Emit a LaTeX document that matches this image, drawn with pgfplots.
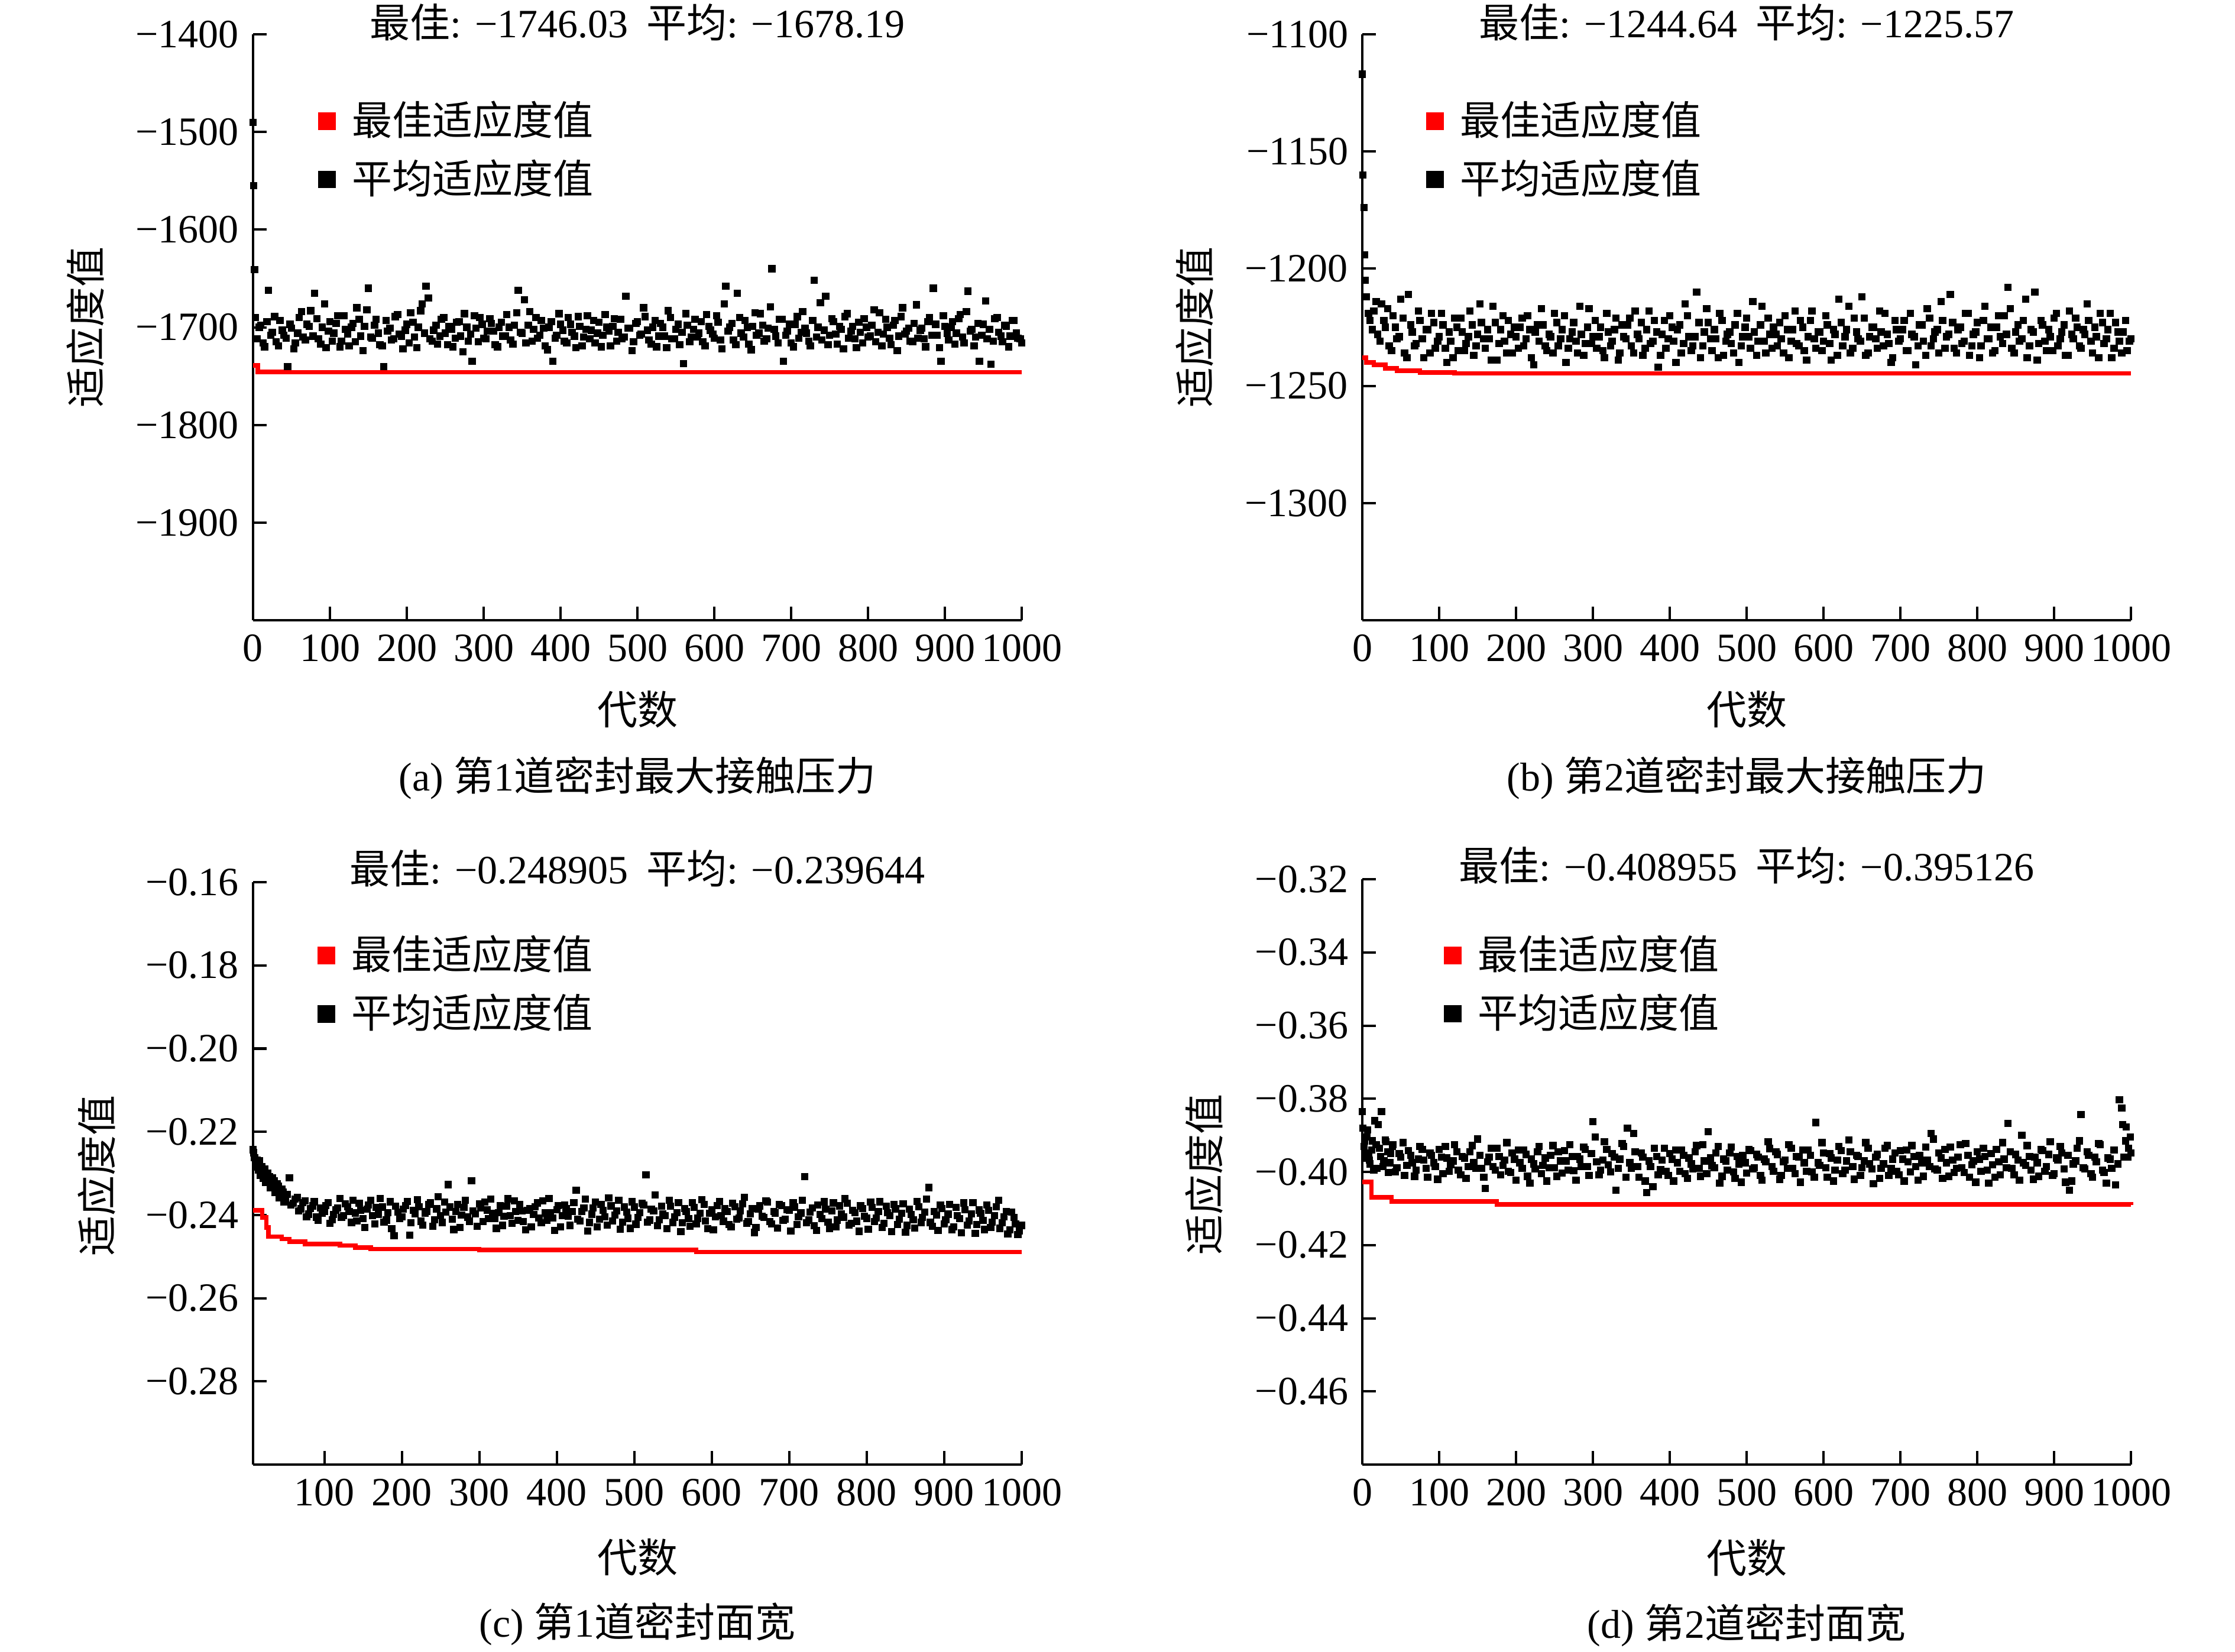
\documentclass[border=0pt]{standalone}
\usepackage{fontspec}
\setmainfont{Liberation Serif}
\newfontfamily\cjk{Noto Sans CJK SC}
\usepackage{pgfplots}
\pgfplotsset{compat=1.18}
\newcommand{\zh}[1]{{\cjk #1}}
\pgfplotsset{
 panel/.style={
  scale only axis, width=191.18pt,
  axis x line*=bottom, axis y line*=left,
  x axis line style={-}, y axis line style={-},
  axis line style={line width=0.6pt},
  tick align=inside, major tick length=3.4pt,
  every tick/.style={black, line width=0.6pt},
  clip=false, xmax=1000,
  font=\fontsize{10}{12}\selectfont,
  tick label style={font=\fontsize{10}{12}\selectfont},
  xlabel={\zh{代数}}, ylabel={\zh{适应度值}},
  every axis title shift=0pt,
  title style={anchor=center, font=\fontsize{10}{12}\selectfont},
  legend cell align=left,
  legend image code/.code={\fill[##1] (0pt,-2pt) rectangle (4pt,2pt);},
  legend style={draw=none, fill=none, inner sep=0pt, anchor=west, row sep=2.5pt, column sep=3pt,
    nodes={inner sep=1pt, font=\cjk\fontsize{10}{12}\selectfont}},
 },
 avg/.style={only marks, mark=square*, mark size=0.7pt, black, forget plot},
 best/.style={red, line width=1.1pt, const plot, forget plot},
}
\begin{document}
\begin{tikzpicture}
\path[use as bounding box] (0,0) rectangle (555.88pt,410.74pt);
% ---------------- (a)
\begin{axis}[panel, at={(62.94pt,256.47pt)}, anchor=south west, height=145.74pt,
 xmin=0, ymin=-2000, ymax=-1400,
 xtick={0,100,...,1000}, xticklabels={0,100,200,300,400,500,600,700,800,900,1000},
 ytick={-1900,-1800,-1700,-1600,-1500,-1400}, yticklabels={−1900,−1800,−1700,−1600,−1500,−1400},
 title={\zh{最佳}: −1746.03\hspace{0.45em}\zh{平均}: −1678.19},
 title style={at={(axis description cs:0.5,1.020)}},
 xlabel style={at={(axis description cs:0.5,-0.152)}, anchor=center},
 ylabel style={at={(axis description cs:-0.218,0.5)}, anchor=center},
 legend style={at={(axis description cs:0.0838,0.802)}},
]
\addplot[avg] coordinates {(0,-1490)(1,-1555)(2,-1641)(3,-1690)
(5,-1712)(10,-1698)(15,-1720)(20,-1662)(25,-1705)(30,-1715)(35,-1693)(40,-1708)(45,-1740)(50,-1701)
(55,-1716)(60,-1690)(65,-1710)(70,-1697)(75,-1683)(80,-1665)(85,-1712)(90,-1700)(95,-1721)(100,-1694)
(105,-1706)(110,-1688)(115,-1714)(120,-1702)(125,-1719)(130,-1696)(135,-1680)(140,-1709)(145,-1699)(150,-1660)
(155,-1711)(160,-1692)(165,-1718)(170,-1740)(175,-1704)(180,-1713)(185,-1689)(190,-1707)(195,-1722)(200,-1697)
(205,-1685)(210,-1710)(215,-1700)(220,-1676)(225,-1658)(230,-1712)(235,-1703)(240,-1717)(245,-1692)(250,-1706)
(255,-1699)(260,-1720)(265,-1695)(270,-1709)(275,-1686)(280,-1714)(285,-1735)(290,-1701)(295,-1690)(300,-1711)
(305,-1704)(310,-1696)(315,-1718)(320,-1700)(325,-1709)(330,-1687)(335,-1713)(340,-1698)(345,-1662)(350,-1706)
(355,-1716)(360,-1684)(365,-1702)(370,-1711)(375,-1693)(380,-1719)(385,-1700)(390,-1735)(395,-1708)(400,-1697)
(405,-1714)(410,-1690)(415,-1705)(420,-1721)(425,-1699)(430,-1710)(435,-1688)(440,-1703)(445,-1716)(450,-1695)
(455,-1708)(460,-1700)(465,-1719)(470,-1691)(475,-1705)(480,-1712)(485,-1668)(490,-1701)(495,-1715)(500,-1694)
(505,-1707)(510,-1689)(515,-1713)(520,-1700)(525,-1720)(530,-1696)(535,-1709)(540,-1683)(545,-1712)(550,-1702)
(555,-1718)(560,-1737)(565,-1698)(570,-1710)(575,-1692)(580,-1706)(585,-1715)(590,-1687)(595,-1703)(600,-1711)
(605,-1695)(610,-1722)(615,-1658)(620,-1700)(625,-1713)(630,-1665)(635,-1706)(640,-1693)(645,-1717)(650,-1699)
(655,-1708)(660,-1686)(665,-1714)(670,-1701)(675,-1640)(680,-1709)(685,-1692)(690,-1735)(695,-1704)(700,-1716)
(705,-1697)(710,-1711)(715,-1684)(720,-1706)(725,-1719)(730,-1652)(735,-1700)(740,-1713)(745,-1668)(750,-1708)
(755,-1694)(760,-1717)(765,-1702)(770,-1689)(775,-1711)(780,-1699)(785,-1721)(790,-1705)(795,-1691)(800,-1710)
(805,-1698)(810,-1715)(815,-1685)(820,-1707)(825,-1700)(830,-1718)(835,-1693)(840,-1709)(845,-1680)(850,-1704)
(855,-1714)(860,-1696)(865,-1711)(870,-1701)(875,-1720)(880,-1690)(885,-1660)(890,-1708)(895,-1735)(900,-1699)
(905,-1713)(910,-1694)(915,-1706)(920,-1687)(925,-1716)(930,-1663)(935,-1702)(940,-1710)(945,-1735)(950,-1697)
(955,-1712)(960,-1738)(965,-1691)(970,-1705)(975,-1715)(980,-1699)(985,-1709)(990,-1693)(995,-1711)(1000,-1716)};
\addplot[avg] coordinates {(8,-1700)(13,-1716)(18,-1694)(23,-1708)(28,-1689)(33,-1719)(38,-1703)(43,-1711)(48,-1697)
(53,-1722)(58,-1706)(63,-1684)(68,-1713)(73,-1699)(78,-1709)(83,-1691)(88,-1717)(93,-1676)(98,-1704)
(103,-1714)(108,-1696)(113,-1720)(118,-1688)(123,-1707)(128,-1700)(133,-1715)(138,-1692)(143,-1724)(148,-1682)
(153,-1710)(158,-1698)(163,-1706)(168,-1719)(173,-1693)(178,-1701)(183,-1712)(188,-1687)(193,-1709)(198,-1703)
(203,-1716)(208,-1695)(213,-1721)(218,-1683)(223,-1706)(228,-1670)(233,-1714)(238,-1698)(243,-1709)(248,-1690)
(253,-1718)(258,-1702)(263,-1711)(268,-1694)(273,-1725)(278,-1700)(283,-1707)(288,-1688)(293,-1715)(298,-1697)
(303,-1712)(308,-1691)(313,-1704)(318,-1720)(323,-1695)(328,-1709)(333,-1700)(338,-1717)(343,-1685)(348,-1705)
(353,-1672)(358,-1698)(363,-1714)(368,-1690)(373,-1708)(378,-1701)(383,-1723)(388,-1694)(393,-1711)(398,-1686)
(403,-1703)(408,-1716)(413,-1697)(418,-1709)(423,-1689)(428,-1719)(433,-1702)(438,-1712)(443,-1693)(448,-1706)
(453,-1720)(458,-1687)(463,-1704)(468,-1699)(473,-1714)(478,-1692)(483,-1710)(488,-1701)(493,-1724)(498,-1696)
(503,-1708)(508,-1680)(513,-1703)(518,-1717)(523,-1693)(528,-1709)(533,-1700)(538,-1721)(543,-1690)(548,-1712)
(553,-1697)(558,-1705)(563,-1686)(568,-1715)(573,-1702)(578,-1710)(583,-1694)(588,-1719)(593,-1699)(598,-1707)
(603,-1688)(608,-1713)(613,-1676)(618,-1704)(623,-1696)(628,-1718)(633,-1690)(638,-1710)(643,-1700)(648,-1723)
(653,-1685)(658,-1706)(663,-1698)(668,-1712)(673,-1679)(678,-1702)(683,-1716)(688,-1692)(693,-1708)(698,-1697)
(703,-1720)(708,-1689)(713,-1705)(718,-1701)(723,-1714)(728,-1693)(733,-1710)(738,-1675)(743,-1703)(748,-1718)
(753,-1691)(758,-1707)(763,-1699)(768,-1722)(773,-1686)(778,-1704)(783,-1712)(788,-1695)(793,-1716)(798,-1700)
(803,-1709)(808,-1682)(813,-1705)(818,-1719)(823,-1692)(828,-1711)(833,-1698)(838,-1724)(843,-1689)(848,-1707)
(853,-1701)(858,-1715)(863,-1677)(868,-1703)(873,-1712)(878,-1694)(883,-1708)(888,-1697)(893,-1721)(898,-1688)
(903,-1706)(908,-1700)(913,-1717)(918,-1691)(923,-1710)(928,-1684)(933,-1704)(938,-1719)(943,-1696)(948,-1708)
(953,-1673)(958,-1702)(963,-1714)(968,-1690)(973,-1709)(978,-1698)(983,-1720)(988,-1693)(993,-1706)(998,-1712)};
\addplot[best] coordinates {(0,-1739)(6,-1745.6)(40,-1746.03)(1000,-1746.03)};
\addlegendimage{red}\addlegendentry{最佳适应度值}
\addlegendimage{black}\addlegendentry{平均适应度值}
\node[font=\fontsize{10}{12}\selectfont] at (axis description cs:0.5,-0.269) {(a) \zh{第}1\zh{道密封最大接触压力}};
\end{axis}
% ---------------- (b)
\begin{axis}[panel, at={(338.82pt,256.47pt)}, anchor=south west, height=145.74pt,
 xmin=0, ymin=-1350, ymax=-1100,
 xtick={0,100,...,1000}, xticklabels={0,100,200,300,400,500,600,700,800,900,1000},
 ytick={-1300,-1250,-1200,-1150,-1100}, yticklabels={−1300,−1250,−1200,−1150,−1100},
 title={\zh{最佳}: −1244.64\hspace{0.45em}\zh{平均}: −1225.57},
 title style={at={(axis description cs:0.5,1.020)}},
 xlabel style={at={(axis description cs:0.5,-0.152)}, anchor=center},
 ylabel style={at={(axis description cs:-0.218,0.5)}, anchor=center},
 legend style={at={(axis description cs:0.082,0.802)}},
]
\addplot[avg] coordinates {(0,-1117)(1,-1160)(2,-1174)(3,-1194)(4,-1205)
(5,-1212)(10,-1222)(15,-1218)(20,-1228)(25,-1215)(30,-1225)(35,-1233)(40,-1220)(45,-1230)(50,-1213)
(55,-1236)(60,-1211)(65,-1227)(70,-1232)(75,-1222)(80,-1238)(85,-1226)(90,-1219)(95,-1234)(100,-1229)
(105,-1224)(110,-1240)(115,-1231)(120,-1221)(125,-1235)(130,-1227)(135,-1232)(140,-1218)(145,-1237)(150,-1228)
(155,-1223)(160,-1234)(165,-1230)(170,-1216)(175,-1239)(180,-1226)(185,-1231)(190,-1222)(195,-1236)(200,-1229)
(205,-1225)(210,-1233)(215,-1220)(220,-1238)(225,-1227)(230,-1231)(235,-1224)(240,-1235)(245,-1229)(250,-1219)
(255,-1233)(260,-1226)(265,-1240)(270,-1230)(275,-1223)(280,-1236)(285,-1228)(290,-1232)(295,-1217)(300,-1229)
(305,-1234)(310,-1225)(315,-1238)(320,-1227)(325,-1231)(330,-1221)(335,-1236)(340,-1229)(345,-1224)(350,-1233)
(355,-1218)(360,-1230)(365,-1237)(370,-1226)(375,-1232)(380,-1222)(385,-1242)(390,-1228)(395,-1234)(400,-1220)
(405,-1231)(410,-1226)(415,-1236)(420,-1215)(425,-1229)(430,-1233)(435,-1210)(440,-1238)(445,-1227)(450,-1223)
(455,-1235)(460,-1230)(465,-1219)(470,-1237)(475,-1228)(480,-1232)(485,-1224)(490,-1240)(495,-1229)(500,-1221)
(505,-1234)(510,-1227)(515,-1231)(520,-1216)(525,-1236)(530,-1228)(535,-1225)(540,-1233)(545,-1230)(550,-1220)
(555,-1238)(560,-1226)(565,-1232)(570,-1222)(575,-1235)(580,-1229)(585,-1218)(590,-1234)(595,-1227)(600,-1231)
(605,-1224)(610,-1239)(615,-1228)(620,-1213)(625,-1233)(630,-1226)(635,-1236)(640,-1221)(645,-1230)(650,-1212)
(655,-1237)(660,-1229)(665,-1225)(670,-1234)(675,-1227)(680,-1219)(685,-1232)(690,-1238)(695,-1226)(700,-1230)
(705,-1222)(710,-1235)(715,-1228)(720,-1241)(725,-1224)(730,-1231)(735,-1217)(740,-1233)(745,-1227)(750,-1236)
(755,-1222)(760,-1229)(765,-1211)(770,-1234)(775,-1226)(780,-1232)(785,-1219)(790,-1237)(795,-1228)(800,-1223)
(805,-1233)(810,-1216)(815,-1230)(820,-1236)(825,-1225)(830,-1229)(835,-1220)(840,-1208)(845,-1234)(850,-1227)
(855,-1231)(860,-1222)(865,-1238)(870,-1226)(875,-1210)(880,-1232)(885,-1224)(890,-1235)(895,-1229)(900,-1221)
(905,-1233)(910,-1227)(915,-1237)(920,-1218)(925,-1230)(930,-1225)(935,-1234)(940,-1228)(945,-1222)(950,-1236)
(955,-1229)(960,-1219)(965,-1232)(970,-1226)(975,-1238)(980,-1223)(985,-1231)(990,-1227)(995,-1235)(1000,-1230)};
\addplot[avg] coordinates {(8,-1219)(13,-1226)(18,-1214)(23,-1231)(28,-1222)(33,-1217)(38,-1235)(43,-1225)(48,-1229)
(53,-1221)(58,-1238)(63,-1224)(68,-1233)(73,-1218)(78,-1230)(83,-1226)(88,-1236)(93,-1223)(98,-1231)
(103,-1219)(108,-1234)(113,-1227)(118,-1238)(123,-1225)(128,-1221)(133,-1235)(138,-1229)(143,-1224)(148,-1233)
(153,-1215)(158,-1230)(163,-1226)(168,-1239)(173,-1223)(178,-1232)(183,-1220)(188,-1236)(193,-1228)(198,-1225)
(203,-1234)(208,-1221)(213,-1230)(218,-1226)(223,-1241)(228,-1224)(233,-1217)(238,-1233)(243,-1228)(248,-1236)
(253,-1223)(258,-1230)(263,-1220)(268,-1234)(273,-1227)(278,-1231)(283,-1216)(288,-1237)(293,-1225)(298,-1232)
(303,-1222)(308,-1229)(313,-1235)(318,-1219)(323,-1233)(328,-1226)(333,-1239)(338,-1224)(343,-1230)(348,-1221)
(353,-1236)(358,-1228)(363,-1223)(368,-1234)(373,-1218)(378,-1231)(383,-1227)(388,-1237)(393,-1222)(398,-1230)
(403,-1225)(408,-1240)(413,-1224)(418,-1232)(423,-1220)(428,-1235)(433,-1229)(438,-1223)(443,-1233)(448,-1217)
(453,-1230)(458,-1226)(463,-1238)(468,-1222)(473,-1231)(478,-1227)(483,-1236)(488,-1219)(493,-1233)(498,-1225)
(503,-1229)(508,-1214)(513,-1237)(518,-1224)(523,-1231)(528,-1221)(533,-1234)(538,-1228)(543,-1223)(548,-1236)
(553,-1226)(558,-1231)(563,-1218)(568,-1233)(573,-1225)(578,-1239)(583,-1222)(588,-1230)(593,-1227)(598,-1235)
(603,-1220)(608,-1232)(613,-1226)(618,-1237)(623,-1223)(628,-1229)(633,-1216)(638,-1234)(643,-1227)(648,-1231)
(653,-1221)(658,-1236)(663,-1225)(668,-1230)(673,-1218)(678,-1233)(683,-1228)(688,-1240)(693,-1222)(698,-1231)
(703,-1226)(708,-1235)(713,-1219)(718,-1229)(723,-1233)(728,-1224)(733,-1237)(738,-1221)(743,-1230)(748,-1226)
(753,-1214)(758,-1234)(763,-1228)(768,-1223)(773,-1236)(778,-1225)(783,-1231)(788,-1219)(793,-1233)(798,-1227)
(803,-1238)(808,-1222)(813,-1230)(818,-1225)(823,-1235)(828,-1220)(833,-1232)(838,-1228)(843,-1217)(848,-1236)
(853,-1224)(858,-1230)(863,-1213)(868,-1233)(873,-1227)(878,-1239)(883,-1222)(888,-1231)(893,-1226)(898,-1235)
(903,-1219)(908,-1230)(913,-1224)(918,-1237)(923,-1228)(928,-1221)(933,-1233)(938,-1226)(943,-1215)(948,-1231)
(953,-1225)(958,-1238)(963,-1223)(968,-1230)(973,-1219)(978,-1234)(983,-1227)(988,-1236)(993,-1222)(998,-1231)};
\addplot[best] coordinates {(0,-1238)(5,-1240)(15,-1241)(30,-1242.5)(45,-1243.5)(75,-1244.3)(120,-1244.64)(1000,-1244.64)};
\addlegendimage{red}\addlegendentry{最佳适应度值}
\addlegendimage{black}\addlegendentry{平均适应度值}
\node[font=\fontsize{10}{12}\selectfont] at (axis description cs:0.5,-0.269) {(b) \zh{第}2\zh{道密封最大接触压力}};
\end{axis}
% ---------------- (c)
\begin{axis}[panel, at={(62.94pt,46.47pt)}, anchor=south west, height=144.85pt,
 xmin=8, ymin=-0.30, ymax=-0.16,
 xtick={100,200,...,1000}, xticklabels={100,200,300,400,500,600,700,800,900,1000},
 ytick={-0.28,-0.26,-0.24,-0.22,-0.20,-0.18,-0.16}, yticklabels={−0.28,−0.26,−0.24,−0.22,−0.20,−0.18,−0.16},
 title={\zh{最佳}: −0.248905\hspace{0.45em}\zh{平均}: −0.239644},
 title style={at={(axis description cs:0.5,1.024)}},
 xlabel style={at={(axis description cs:0.5,-0.159)}, anchor=center},
 ylabel style={at={(axis description cs:-0.203,0.496)}, anchor=center},
 legend style={at={(axis description cs:0.083,0.824)}},
]
\addplot[avg] coordinates {(8,-0.2243)(10,-0.2262)(12,-0.2278)(14,-0.2285)(16,-0.2270)(18,-0.2296)(20,-0.2301)
(23,-0.2290)(26,-0.2315)(29,-0.2308)(32,-0.2327)(35,-0.2318)(38,-0.2340)(41,-0.2331)(44,-0.2352)(47,-0.2345)
(50,-0.2361)(55,-0.2311)(60,-0.2372)(65,-0.2358)(70,-0.2385)(75,-0.2366)(80,-0.2398)(85,-0.2378)(90,-0.2405)(95,-0.2383)
(100,-0.2392)(105,-0.2370)(110,-0.2411)(115,-0.2388)(120,-0.2360)(125,-0.2402)(130,-0.2380)(135,-0.2418)(140,-0.2395)(145,-0.2372)
(150,-0.2409)(155,-0.2386)(160,-0.2365)(165,-0.2421)(170,-0.2398)(175,-0.2381)(180,-0.2412)(185,-0.2368)(190,-0.2450)(195,-0.2393)
(200,-0.2404)(205,-0.2377)(210,-0.2448)(215,-0.2389)(220,-0.2363)(225,-0.2415)(230,-0.2396)(235,-0.2375)(240,-0.2427)(245,-0.2385)
(250,-0.2401)(255,-0.2369)(260,-0.2327)(265,-0.2410)(270,-0.2391)(275,-0.2430)(280,-0.2382)(285,-0.2405)(290,-0.2318)(295,-0.2397)
(300,-0.2373)(305,-0.2416)(310,-0.2388)(315,-0.2362)(320,-0.2408)(325,-0.2394)(330,-0.2425)(335,-0.2379)(340,-0.2401)(345,-0.2366)
(350,-0.2413)(355,-0.2390)(360,-0.2436)(365,-0.2384)(370,-0.2399)(375,-0.2371)(380,-0.2419)(385,-0.2395)(390,-0.2360)(395,-0.2407)
(400,-0.2387)(405,-0.2428)(410,-0.2376)(415,-0.2403)(420,-0.2392)(425,-0.2340)(430,-0.2414)(435,-0.2383)(440,-0.2438)(445,-0.2398)
(450,-0.2369)(455,-0.2410)(460,-0.2389)(465,-0.2424)(470,-0.2378)(475,-0.2400)(480,-0.2365)(485,-0.2417)(490,-0.2393)(495,-0.2432)
(500,-0.2381)(505,-0.2406)(510,-0.2372)(515,-0.2303)(520,-0.2412)(525,-0.2390)(530,-0.2426)(535,-0.2379)(540,-0.2402)(545,-0.2364)
(550,-0.2418)(555,-0.2394)(560,-0.2440)(565,-0.2384)(570,-0.2409)(575,-0.2370)(580,-0.2421)(585,-0.2396)(590,-0.2375)(595,-0.2433)
(600,-0.2388)(605,-0.2404)(610,-0.2367)(615,-0.2415)(620,-0.2391)(625,-0.2429)(630,-0.2380)(635,-0.2407)(640,-0.2373)(645,-0.2420)
(650,-0.2397)(655,-0.2442)(660,-0.2385)(665,-0.2403)(670,-0.2366)(675,-0.2416)(680,-0.2392)(685,-0.2431)(690,-0.2377)(695,-0.2410)
(700,-0.2388)(705,-0.2371)(710,-0.2423)(715,-0.2395)(720,-0.2308)(725,-0.2412)(730,-0.2383)(735,-0.2437)(740,-0.2399)(745,-0.2368)
(750,-0.2417)(755,-0.2390)(760,-0.2428)(765,-0.2378)(770,-0.2405)(775,-0.2372)(780,-0.2420)(785,-0.2394)(790,-0.2439)(795,-0.2384)
(800,-0.2408)(805,-0.2369)(810,-0.2416)(815,-0.2391)(820,-0.2430)(825,-0.2379)(830,-0.2402)(835,-0.2374)(840,-0.2423)(845,-0.2396)
(850,-0.2441)(855,-0.2386)(860,-0.2411)(865,-0.2367)(870,-0.2418)(875,-0.2393)(880,-0.2334)(885,-0.2427)(890,-0.2400)(895,-0.2376)
(900,-0.2421)(905,-0.2398)(910,-0.2435)(915,-0.2382)(920,-0.2409)(925,-0.2371)(930,-0.2424)(935,-0.2397)(940,-0.2444)(945,-0.2388)
(950,-0.2413)(955,-0.2376)(960,-0.2430)(965,-0.2402)(970,-0.2365)(975,-0.2419)(980,-0.2392)(985,-0.2436)(990,-0.2406)(995,-0.2447)(1000,-0.2425)};
\addplot[avg] coordinates {(9,-0.2250)(11,-0.2281)(13,-0.2268)(15,-0.2292)(17,-0.2305)(19,-0.2283)(21,-0.2312)(24,-0.2322)(27,-0.2300)
(30,-0.2335)(33,-0.2310)(36,-0.2346)(39,-0.2325)(42,-0.2358)(45,-0.2338)(48,-0.2368)(52,-0.2350)(57,-0.2376)(62,-0.2362)
(67,-0.2390)(72,-0.2370)(77,-0.2404)(82,-0.2384)(87,-0.2368)(92,-0.2412)(97,-0.2395)(102,-0.2377)(107,-0.2420)(112,-0.2399)
(117,-0.2383)(122,-0.2406)(127,-0.2373)(132,-0.2392)(137,-0.2365)(142,-0.2414)(147,-0.2389)(152,-0.2430)(157,-0.2376)(162,-0.2401)
(167,-0.2382)(172,-0.2360)(177,-0.2417)(182,-0.2394)(187,-0.2433)(192,-0.2379)(197,-0.2408)(202,-0.2386)(207,-0.2367)(212,-0.2419)
(217,-0.2397)(222,-0.2380)(227,-0.2424)(232,-0.2391)(237,-0.2370)(242,-0.2411)(247,-0.2356)(252,-0.2418)(257,-0.2393)(262,-0.2381)
(267,-0.2435)(272,-0.2374)(277,-0.2400)(282,-0.2364)(287,-0.2415)(292,-0.2390)(297,-0.2427)(302,-0.2383)(307,-0.2369)(312,-0.2409)
(317,-0.2396)(322,-0.2432)(327,-0.2378)(332,-0.2403)(337,-0.2361)(342,-0.2420)(347,-0.2392)(352,-0.2374)(357,-0.2416)(362,-0.2389)
(367,-0.2428)(372,-0.2380)(377,-0.2407)(382,-0.2366)(387,-0.2413)(392,-0.2395)(397,-0.2437)(402,-0.2377)(407,-0.2401)(412,-0.2385)
(417,-0.2425)(422,-0.2370)(427,-0.2410)(432,-0.2392)(437,-0.2362)(442,-0.2418)(447,-0.2383)(452,-0.2429)(457,-0.2375)(462,-0.2404)
(467,-0.2359)(472,-0.2414)(477,-0.2390)(482,-0.2434)(487,-0.2381)(492,-0.2408)(497,-0.2368)(502,-0.2422)(507,-0.2394)(512,-0.2376)
(517,-0.2417)(522,-0.2386)(527,-0.2352)(532,-0.2411)(537,-0.2397)(542,-0.2433)(547,-0.2379)(552,-0.2405)(557,-0.2370)(562,-0.2419)
(567,-0.2391)(572,-0.2427)(577,-0.2382)(582,-0.2408)(587,-0.2363)(592,-0.2414)(597,-0.2396)(602,-0.2436)(607,-0.2377)(612,-0.2402)
(617,-0.2385)(622,-0.2423)(627,-0.2372)(632,-0.2410)(637,-0.2390)(642,-0.2357)(647,-0.2416)(652,-0.2384)(657,-0.2430)(662,-0.2378)
(667,-0.2406)(672,-0.2369)(677,-0.2421)(682,-0.2395)(687,-0.2374)(692,-0.2413)(697,-0.2387)(702,-0.2438)(707,-0.2381)(712,-0.2404)
(717,-0.2364)(722,-0.2419)(727,-0.2393)(732,-0.2426)(737,-0.2376)(742,-0.2409)(747,-0.2386)(752,-0.2432)(757,-0.2371)(762,-0.2412)
(767,-0.2398)(772,-0.2361)(777,-0.2424)(782,-0.2389)(787,-0.2415)(792,-0.2378)(797,-0.2403)(802,-0.2434)(807,-0.2382)(812,-0.2407)
(817,-0.2368)(822,-0.2420)(827,-0.2394)(832,-0.2440)(837,-0.2385)(842,-0.2410)(847,-0.2373)(852,-0.2425)(857,-0.2399)(862,-0.2431)
(867,-0.2380)(872,-0.2406)(877,-0.2362)(882,-0.2418)(887,-0.2392)(892,-0.2437)(897,-0.2384)(902,-0.2411)(907,-0.2375)(912,-0.2428)
(917,-0.2401)(922,-0.2443)(927,-0.2387)(932,-0.2414)(937,-0.2370)(942,-0.2423)(947,-0.2396)(952,-0.2435)(957,-0.2389)(962,-0.2417)
(967,-0.2380)(972,-0.2432)(977,-0.2404)(982,-0.2446)(987,-0.2393)(992,-0.2421)(997,-0.2438)};
\addplot[best] coordinates {(8,-0.2389)(20,-0.2406)(25,-0.2430)(28,-0.2452)(45,-0.2458)(55,-0.2464)(75,-0.2470)(120,-0.2473)(140,-0.2478)(160,-0.2482)(300,-0.2484)(580,-0.2489)(1000,-0.2489)};
\addlegendimage{red}\addlegendentry{最佳适应度值}
\addlegendimage{black}\addlegendentry{平均适应度值}
\node[font=\fontsize{10}{12}\selectfont] at (axis description cs:0.5,-0.274) {(c) \zh{第}1\zh{道密封面宽}};
\end{axis}
% ---------------- (d)
\begin{axis}[panel, at={(338.82pt,46.47pt)}, anchor=south west, height=145.59pt,
 xmin=0, ymin=-0.48, ymax=-0.32,
 xtick={0,100,...,1000}, xticklabels={0,100,200,300,400,500,600,700,800,900,1000},
 ytick={-0.46,-0.44,-0.42,-0.40,-0.38,-0.36,-0.34,-0.32}, yticklabels={−0.46,−0.44,−0.42,−0.40,−0.38,−0.36,−0.34,−0.32},
 title={\zh{最佳}: −0.408955\hspace{0.45em}\zh{平均}: −0.395126},
 title style={at={(axis description cs:0.5,1.024)}},
 xlabel style={at={(axis description cs:0.5,-0.159)}, anchor=center},
 ylabel style={at={(axis description cs:-0.206,0.496)}, anchor=center},
 legend style={at={(axis description cs:0.105,0.820)}},
]
\addplot[avg] coordinates {(0,-0.3835)(1,-0.3880)(2,-0.3930)(4,-0.3962)(6,-0.3905)(8,-0.3948)(10,-0.3978)(13,-0.3915)(16,-0.3860)(19,-0.3990)
(22,-0.3935)(25,-0.3835)(28,-0.3970)(31,-0.3918)(34,-0.4002)(37,-0.3950)(40,-0.3925)(45,-0.3988)(50,-0.3960)(55,-0.4010)
(60,-0.3942)(65,-0.3975)(70,-0.3995)(75,-0.3930)(80,-0.3968)(85,-0.4015)(90,-0.3955)(95,-0.3985)(100,-0.3938)(105,-0.4005)
(110,-0.3962)(115,-0.3980)(120,-0.3925)(125,-0.3995)(130,-0.3958)(135,-0.4018)(140,-0.3945)(145,-0.3975)(150,-0.3910)(155,-0.3990)
(160,-0.4045)(165,-0.3960)(170,-0.3985)(175,-0.3935)(180,-0.4008)(185,-0.3968)(190,-0.3998)(195,-0.3948)(200,-0.4022)(205,-0.3975)
(210,-0.3940)(215,-0.4012)(220,-0.3965)(225,-0.3992)(230,-0.3930)(235,-0.3982)(240,-0.4025)(245,-0.3955)(250,-0.3988)(255,-0.3945)
(260,-0.4003)(265,-0.3970)(270,-0.3925)(275,-0.3997)(280,-0.3958)(285,-0.3985)(290,-0.3938)(295,-0.4010)(300,-0.3862)(305,-0.3972)
(310,-0.3995)(315,-0.3918)(320,-0.3980)(325,-0.3950)(330,-0.4050)(335,-0.3965)(340,-0.3930)(345,-0.3880)(350,-0.3990)(355,-0.3945)
(360,-0.4015)(365,-0.3960)(370,-0.4057)(375,-0.3985)(380,-0.3935)(385,-0.4008)(390,-0.3968)(395,-0.3998)(400,-0.3950)(405,-0.4025)
(410,-0.3975)(415,-0.3940)(420,-0.4005)(425,-0.3962)(430,-0.3992)(435,-0.3928)(440,-0.4012)(445,-0.3970)(450,-0.3890)(455,-0.3983)
(460,-0.3948)(465,-0.4030)(470,-0.3965)(475,-0.3995)(480,-0.3932)(485,-0.4018)(490,-0.3978)(495,-0.3955)(500,-0.4003)(505,-0.3942)
(510,-0.3988)(515,-0.3960)(520,-0.4022)(525,-0.3972)(530,-0.3936)(535,-0.3998)(540,-0.3952)(545,-0.4010)(550,-0.3968)(555,-0.3925)
(560,-0.3990)(565,-0.3958)(570,-0.4028)(575,-0.3975)(580,-0.3940)(585,-0.4000)(590,-0.3865)(595,-0.3982)(600,-0.3948)(605,-0.4015)
(610,-0.3962)(615,-0.3995)(620,-0.3930)(625,-0.4005)(630,-0.3970)(635,-0.3945)(640,-0.4020)(645,-0.3958)(650,-0.3988)(655,-0.3920)
(660,-0.3978)(665,-0.4032)(670,-0.3952)(675,-0.3990)(680,-0.3935)(685,-0.4010)(690,-0.3965)(695,-0.3998)(700,-0.3942)(705,-0.4025)
(710,-0.3972)(715,-0.3928)(720,-0.3985)(725,-0.3955)(730,-0.4012)(735,-0.3968)(740,-0.3895)(745,-0.3992)(750,-0.3948)(755,-0.4018)
(760,-0.3975)(765,-0.3932)(770,-0.4002)(775,-0.3960)(780,-0.3988)(785,-0.3922)(790,-0.4015)(795,-0.3970)(800,-0.3945)(805,-0.3998)
(810,-0.3958)(815,-0.4030)(820,-0.3980)(825,-0.3938)(830,-0.4008)(835,-0.3965)(840,-0.3867)(845,-0.3990)(850,-0.3952)(855,-0.4022)
(860,-0.3975)(865,-0.3928)(870,-0.3995)(875,-0.3960)(880,-0.4012)(885,-0.3942)(890,-0.3985)(895,-0.3918)(900,-0.4005)(905,-0.3968)
(910,-0.3948)(915,-0.4028)(920,-0.4050)(925,-0.3978)(930,-0.3935)(935,-0.3843)(940,-0.3992)(945,-0.3955)(950,-0.4015)(955,-0.3972)
(960,-0.3925)(965,-0.4002)(970,-0.3962)(975,-0.3990)(980,-0.4035)(985,-0.3803)(988,-0.3825)(991,-0.3960)(994,-0.3877)(997,-0.3935)(1000,-0.3948)};
\addplot[avg] coordinates {(3,-0.3915)(5,-0.3950)(7,-0.3885)(9,-0.3968)(12,-0.3940)(15,-0.3995)(18,-0.3925)(21,-0.3870)(24,-0.3958)
(27,-0.3985)(30,-0.3912)(33,-0.3945)(36,-0.3975)(39,-0.3930)(43,-0.4000)(48,-0.3950)(53,-0.3920)(58,-0.3982)(63,-0.3955)
(68,-0.4012)(73,-0.3965)(78,-0.3938)(83,-0.3990)(88,-0.3948)(93,-0.3975)(98,-0.4020)(103,-0.3960)(108,-0.3930)(113,-0.3998)
(118,-0.3970)(123,-0.3945)(128,-0.4008)(133,-0.3962)(138,-0.3985)(143,-0.3928)(148,-0.3990)(153,-0.3955)(158,-0.4015)(163,-0.3972)
(168,-0.3935)(173,-0.3995)(178,-0.3958)(183,-0.3982)(188,-0.3920)(193,-0.4002)(198,-0.3965)(203,-0.3940)(208,-0.3990)(213,-0.3952)
(218,-0.4030)(223,-0.3978)(228,-0.3945)(233,-0.4005)(238,-0.3962)(243,-0.3988)(248,-0.3928)(253,-0.4012)(258,-0.3970)(263,-0.3942)
(268,-0.3995)(273,-0.3958)(278,-0.4022)(283,-0.3965)(288,-0.3932)(293,-0.3985)(298,-0.3950)(303,-0.3905)(308,-0.4008)(313,-0.3968)
(318,-0.3938)(323,-0.4000)(328,-0.3960)(333,-0.3990)(338,-0.3922)(343,-0.4015)(348,-0.3975)(353,-0.3895)(358,-0.3985)(363,-0.3948)
(368,-0.4025)(373,-0.3970)(378,-0.4040)(383,-0.3958)(388,-0.3993)(393,-0.3935)(398,-0.4010)(403,-0.3965)(408,-0.3940)(413,-0.3998)
(418,-0.3955)(423,-0.4018)(428,-0.3978)(433,-0.3945)(438,-0.3990)(443,-0.3925)(448,-0.4005)(453,-0.3962)(458,-0.3988)(463,-0.3930)
(468,-0.4012)(473,-0.3970)(478,-0.3948)(483,-0.4000)(488,-0.3958)(493,-0.4028)(498,-0.3975)(503,-0.3938)(508,-0.3992)(513,-0.3952)
(518,-0.4010)(523,-0.3965)(528,-0.3918)(533,-0.3985)(538,-0.3945)(543,-0.4020)(548,-0.3972)(553,-0.3990)(558,-0.3935)(563,-0.4005)
(568,-0.3960)(573,-0.3940)(578,-0.3998)(583,-0.3955)(588,-0.4015)(593,-0.3975)(598,-0.3920)(603,-0.3988)(608,-0.3950)(613,-0.4025)
(618,-0.3968)(623,-0.3942)(628,-0.3995)(633,-0.3912)(638,-0.3985)(643,-0.3955)(648,-0.4010)(653,-0.3970)(658,-0.3935)(663,-0.3992)
(668,-0.3960)(673,-0.4018)(678,-0.3978)(683,-0.3928)(688,-0.3990)(693,-0.3948)(698,-0.4008)(703,-0.3965)(708,-0.3940)(713,-0.4000)
(718,-0.3958)(723,-0.4022)(728,-0.3975)(733,-0.3932)(738,-0.3985)(743,-0.3910)(748,-0.3995)(753,-0.3962)(758,-0.3938)(763,-0.4012)
(768,-0.3968)(773,-0.3990)(778,-0.3925)(783,-0.4002)(788,-0.3955)(793,-0.3980)(798,-0.4028)(803,-0.3965)(808,-0.3935)(813,-0.3995)
(818,-0.3950)(823,-0.4015)(828,-0.3972)(833,-0.3920)(838,-0.3988)(843,-0.3945)(848,-0.4008)(853,-0.3968)(858,-0.3900)(863,-0.3982)
(868,-0.3958)(873,-0.4020)(878,-0.3975)(883,-0.3938)(888,-0.3998)(893,-0.3952)(898,-0.4010)(903,-0.3962)(908,-0.3930)(913,-0.3992)
(918,-0.3955)(923,-0.4025)(928,-0.3970)(933,-0.3915)(938,-0.3988)(943,-0.3945)(948,-0.4005)(953,-0.3960)(958,-0.3922)(963,-0.3995)
(968,-0.4030)(973,-0.3965)(978,-0.3940)(983,-0.3978)(989,-0.3870)(993,-0.3915)(996,-0.3960)(999,-0.3905)};
\addplot[best] coordinates {(0,-0.4027)(12,-0.4069)(38,-0.4081)(175,-0.4089)(1000,-0.40896)};
\addlegendimage{red}\addlegendentry{最佳适应度值}
\addlegendimage{black}\addlegendentry{平均适应度值}
\node[font=\fontsize{10}{12}\selectfont] at (axis description cs:0.5,-0.274) {(d) \zh{第}2\zh{道密封面宽}};
\end{axis}
\end{tikzpicture}
\end{document}
